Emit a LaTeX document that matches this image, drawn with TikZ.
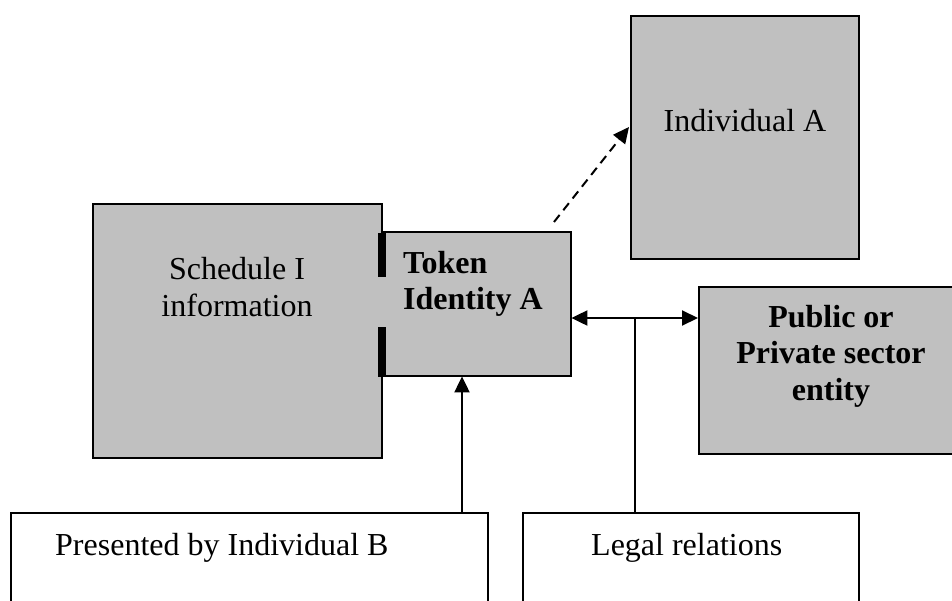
\documentclass[tikz,border=0pt]{standalone}
\usepackage{fontspec}
\setmainfont{Liberation Serif}
\usetikzlibrary{arrows.meta}
\definecolor{boxgray}{HTML}{C0C0C0}
\begin{document}
\begin{tikzpicture}[x=1pt,y=-1pt,
  graybox/.style={draw=black, fill=boxgray, line width=2pt, inner sep=0pt, anchor=north west},
  whitebox/.style={draw=black, fill=white, line width=2pt, inner sep=0pt, anchor=north west},
  txt/.style={font=\fontsize{32}{36.5}\selectfont, inner sep=0pt},
  btxt/.style={txt, font=\fontsize{32}{36.5}\selectfont\bfseries},
  conn/.style={line width=2pt},
  tip/.style={-{Triangle[length=16pt,width=15pt]}},
  tips/.style={{Triangle[length=16pt,width=15pt]}-{Triangle[length=16pt,width=15pt]}}
]
\useasboundingbox (0,0) rectangle (952,600);

% grey boxes
\node[graybox, minimum width=289pt, minimum height=254pt] (sched) at (92,203) {};
\node[graybox, minimum width=228pt, minimum height=243pt] (indA) at (630,15) {};
\node[graybox, minimum width=270pt, minimum height=167pt] (entity) at (698,286) {};

% token box: open on the left, joined to the schedule box
\node[fill=boxgray, inner sep=0pt, anchor=north west,
      minimum width=192pt, minimum height=144pt] (token) at (379,232) {};
\draw[conn] ([xshift=2pt]token.north west) -- (token.north east)
  -- (token.south east) -- ([xshift=2pt]token.south west);
\draw[line width=8pt] (382,233) -- (382,277);
\draw[line width=8pt] (382,327) -- (382,377);

% white boxes at the foot
\node[whitebox, minimum width=477pt, minimum height=100pt] (pres) at (10,512) {};
\node[whitebox, minimum width=336pt, minimum height=100pt] (legal) at (522,512) {};

% labels
\node[txt, align=center] (schedT) at (237,287) {Schedule I\\information};
\node[btxt, align=left, anchor=north west] (tokenT) at (403,251) {Token\\Identity A};
\node[txt, anchor=base] (indAT) at (745,131) {Individual A};
\node[btxt, align=center] (entityT) at (831,356) {Public or\\Private sector\\entity};
\node[txt, anchor=base west] (presT) at (55,555) {Presented by Individual B};
\node[txt, anchor=base west] (legalT) at (591,555) {Legal relations};

% connectors
\coordinate (up) at (462,512);
\draw[conn, tip] (up) -- (up |- token.south);
\coordinate (ya) at (0,318);
\draw[conn, tips] (token.east |- ya) -- (entity.west |- ya);
\coordinate (legalTop) at (635,512);
\draw[conn] (legalTop) -- (legalTop |- ya);
\coordinate (dashStart) at (554,222);
\draw[conn, tip, dashed, dash pattern=on 9pt off 6pt] (dashStart) -- (629,127);
\end{tikzpicture}
\end{document}
